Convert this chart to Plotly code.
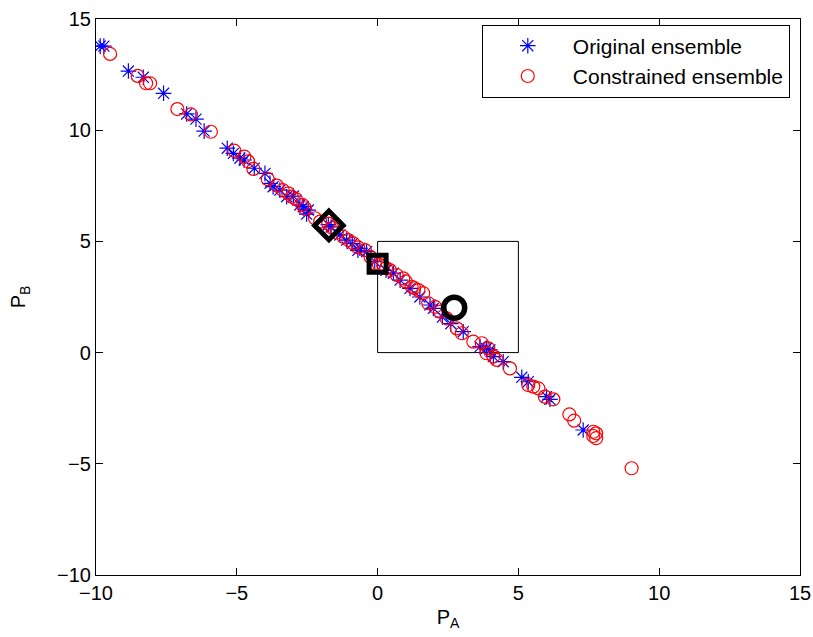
import plotly.graph_objects as go

# Original ensemble (blue stars)
orig_x = [-9.85, -9.72, -8.85, -8.32, -7.60, -6.78, -6.45, -6.16, -5.34, -5.12,
          -4.89, -4.74, -4.38, -4.00, -3.82, -3.71, -3.47, -3.23, -2.99, -2.76,
          -2.64, -2.52, -2.46, -1.75, -1.65, -1.34, -1.10, -0.90, -0.70, -0.63,
          -0.39, -0.10, 0.30, 0.56, 0.80, 1.15, 1.50, 1.86, 1.98, 2.30, 2.60,
          3.04, 3.64, 3.87, 3.99, 4.11, 4.46, 5.12, 5.35, 6.00, 6.12, 7.30]
orig_y = [13.78, 13.78, 12.66, 12.38, 11.66, 10.73, 10.50, 9.96, 9.19, 8.96,
          8.74, 8.66, 8.29, 8.06, 7.61, 7.46, 7.31, 7.01, 7.04, 6.64,
          6.56, 6.23, 6.41, 5.75, 5.65, 5.29, 5.06, 4.90, 4.60, 4.69,
          4.54, 4.10, 3.70, 3.57, 3.26, 2.89, 2.50, 2.14, 1.99, 1.60, 1.30,
          0.94, 0.27, 0.19, 0.12, -0.18, -0.41, -1.11, -1.31, -1.98, -2.10, -3.48]

# Constrained ensemble (red circles)
cons_x = [-9.50, -8.52, -8.22, -8.08, -7.11, -6.63, -5.92, -5.09, -4.73, -4.60,
          -4.41, -3.90, -3.58, -3.37, -3.17, -3.05, -2.90, -2.67, -2.58, -2.22,
          -2.04, -1.75, -1.60, -1.45, -1.22, -1.04, -0.86, -0.69, -0.45, -0.25,
          -0.10, 0.05, 0.20, 0.30, 0.44, 0.68, 0.91, 1.00, 1.21, 1.30, 1.45,
          1.62, 1.80, 2.04, 2.22, 2.45, 2.81, 2.99, 3.40, 3.70, 3.93, 3.87,
          4.11, 4.23, 4.70, 5.35, 5.53, 5.71, 5.94, 6.24, 6.81, 6.98, 7.66,
          7.76, 7.66, 7.76, 9.02]
cons_y = [13.43, 12.44, 12.11, 12.11, 10.95, 10.71, 9.93, 9.08, 8.81, 8.60,
          8.26, 7.80, 7.51, 7.31, 7.16, 7.01, 6.90, 6.64, 6.49, 6.04,
          5.89, 5.80, 5.60, 5.40, 5.21, 5.06, 4.91, 4.73, 4.61, 4.30,
          4.00, 3.95, 3.90, 3.80, 3.71, 3.49, 3.34, 3.20, 2.96, 2.90, 2.81,
          2.67, 2.22, 2.06, 1.84, 1.54, 1.09, 0.87, 0.49, 0.42, 0.19, -0.03,
          -0.18, -0.33, -0.71, -1.46, -1.53, -1.61, -1.98, -2.10, -2.78, -3.06, -3.56,
          -3.63, -3.75, -3.85, -5.20]

# Special points
diamond_pt = [-1.73, 5.72]
square_pt = [0.0, 4.0]
circle_pt = [2.72, 2.02]

# Box
box_x = [0, 5, 5, 0, 0]
box_y = [0, 0, 5, 5, 0]

tick_vals = [-10, -5, 0, 5, 10, 15]

FONT = "Liberation Sans, Arial, Helvetica, sans-serif"

fig = go.Figure()

fig.add_trace(go.Scatter(x=box_x, y=box_y, mode="lines",
                         line=dict(color="black", width=1), showlegend=False,
                         hoverinfo="skip"))

fig.add_trace(go.Scatter(x=orig_x, y=orig_y, mode="markers", name="Original ensemble",
                         marker=dict(symbol="asterisk-open", size=13,
                                     line=dict(color="#0000ff", width=1.2),
                                     color="#0000ff")))
fig.add_trace(go.Scatter(x=cons_x, y=cons_y, mode="markers", name="Constrained ensemble",
                         marker=dict(symbol="circle-open", size=13,
                                     line=dict(color="#ff0000", width=1.2),
                                     color="#ff0000")))

fig.add_trace(go.Scatter(x=[diamond_pt[0]], y=[diamond_pt[1]], mode="markers",
                         showlegend=False,
                         marker=dict(symbol="diamond-open", size=22, color="black",
                                     line=dict(color="black", width=5))))
fig.add_trace(go.Scatter(x=[square_pt[0]], y=[square_pt[1]], mode="markers",
                         showlegend=False,
                         marker=dict(symbol="square-open", size=17, color="black",
                                     line=dict(color="black", width=5))))
fig.add_trace(go.Scatter(x=[circle_pt[0]], y=[circle_pt[1]], mode="markers",
                         showlegend=False,
                         marker=dict(symbol="circle-open", size=21, color="black",
                                     line=dict(color="black", width=5.5))))

axis_common = dict(showgrid=False, zeroline=False, showline=True, linecolor="black",
                   linewidth=1.2, mirror="allticks", ticks="inside", ticklen=7,
                   tickcolor="black", tickwidth=1, tickvals=tick_vals,
                   automargin=False,
                   tickfont=dict(family=FONT, size=20, color="black"))

fig.update_layout(
    width=813, height=637,
    margin=dict(l=96, r=13, t=19, b=62, autoexpand=False),
    paper_bgcolor="white", plot_bgcolor="white",
    font=dict(family=FONT, size=20, color="black"),
    xaxis=dict(range=[-10, 15], title=dict(text="P<sub>A</sub>", standoff=6,
                                            font=dict(family=FONT, size=20)),
               **axis_common),
    yaxis=dict(range=[-10, 15], title=dict(text="P<sub>B</sub>", standoff=25,
                                            font=dict(family=FONT, size=20)),
               **axis_common),
    legend=dict(x=0.548, y=0.99, xanchor="left", yanchor="top",
                bordercolor="black", borderwidth=1, bgcolor="white",
                font=dict(family=FONT, size=21, color="black"),
                itemwidth=80, tracegroupgap=0),
    showlegend=True,
)

fig.write_html("out.html")
